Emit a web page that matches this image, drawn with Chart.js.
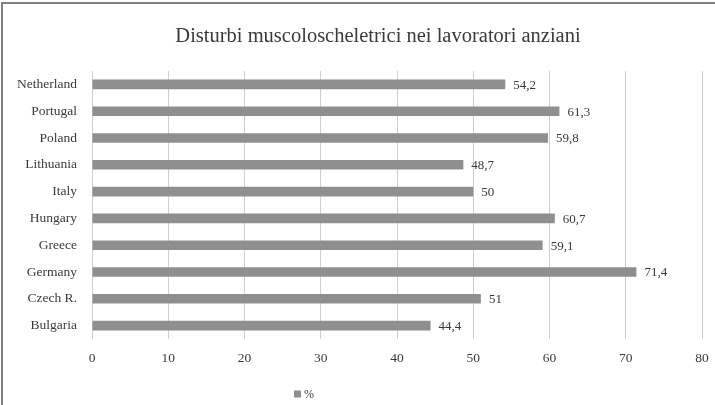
<!DOCTYPE html>
<html>
<head>
<meta charset="utf-8">
<style>
  html, body { margin: 0; padding: 0; background: #ffffff; }
  #wrap { position: relative; width: 715px; height: 405px; }
</style>
<script src="https://cdn.jsdelivr.net/npm/chart.js@4/dist/chart.umd.min.js"></script>
</head>
<body>
<div id="wrap"><canvas id="chart" width="715" height="405"></canvas></div>
<script>
// Chart content
const chartTitle = 'Disturbi muscoloscheletrici nei lavoratori anziani';
const countries = ['Netherland', 'Portugal', 'Poland', 'Lithuania', 'Italy',
                   'Hungary', 'Greece', 'Germany', 'Czech R.', 'Bulgaria'];
const percentValues = [54.2, 61.3, 59.8, 48.7, 50, 60.7, 59.1, 71.4, 51, 44.4];
const seriesName = '%';
const axisMin = 0;
const axisMax = 80;
const axisStep = 10;

const FONT = '"Liberation Serif", "DejaVu Serif", serif';
const TEXT = '#3a3a3a';
const BAR = '#8f8f91';
const GRID = '#cfcfcf';

// Comma as decimal separator
const fmt = v => String(v).replace('.', ',');

// Frame, title, value labels and legend
const decorPlugin = {
  id: 'decor',
  beforeDraw(chart) {
    const ctx = chart.ctx;
    ctx.save();
    ctx.strokeStyle = '#808080';
    ctx.lineWidth = 2;
    ctx.beginPath();
    ctx.moveTo(2, 405);
    ctx.lineTo(2, 3);
    ctx.lineTo(715, 3);
    ctx.stroke();
    ctx.restore();
  },
  afterDatasetsDraw(chart) {
    const ctx = chart.ctx;
    ctx.save();
    // title
    ctx.fillStyle = TEXT;
    ctx.font = '20.5px ' + FONT;
    ctx.textAlign = 'center';
    ctx.textBaseline = 'alphabetic';
    ctx.fillText(chartTitle, 378, 42);

    // value labels at bar ends
    const meta = chart.getDatasetMeta(0);
    ctx.font = '13px ' + FONT;
    ctx.textAlign = 'left';
    ctx.textBaseline = 'middle';
    meta.data.forEach((bar, i) => {
      ctx.fillText(fmt(chart.data.datasets[0].data[i]), bar.x + 8, bar.y + 1);
    });

    // legend
    const lx = 294, ly = 394;
    ctx.fillStyle = BAR;
    ctx.fillRect(lx, ly - 3.5, 7, 7);
    ctx.fillStyle = TEXT;
    ctx.font = '12px ' + FONT;
    ctx.fillText(chart.data.datasets[0].label, lx + 10, ly + 1);
    ctx.restore();
  }
};

new Chart(document.getElementById('chart'), {
  type: 'bar',
  data: {
    labels: countries,
    datasets: [{
      label: seriesName,
      data: percentValues,
      backgroundColor: BAR,
      borderWidth: 0,
      categoryPercentage: 1,
      barPercentage: 0.36
    }]
  },
  options: {
    indexAxis: 'y',
    responsive: false,
    animation: false,
    devicePixelRatio: 1,
    layout: { padding: { left: 0, right: 13, top: 71, bottom: 36 } },
    plugins: {
      legend: { display: false },
      title: { display: false },
      tooltip: { enabled: false }
    },
    scales: {
      x: {
        min: axisMin,
        max: axisMax,
        afterFit(scale) {
          scale.height = 30;
          scale.paddingLeft = 0;
          scale.paddingRight = 0;
        },
        grid: { color: GRID, lineWidth: 1, drawTicks: false },
        border: { display: false },
        ticks: {
          stepSize: axisStep,
          padding: 11,
          color: TEXT,
          font: { family: FONT, size: 13.5 }
        }
      },
      y: {
        afterFit(scale) { scale.width = 92; },
        grid: { display: false, drawTicks: false },
        border: { display: false },
        ticks: {
          padding: 15,
          color: TEXT,
          font: { family: FONT, size: 13.5 }
        }
      }
    }
  },
  plugins: [decorPlugin]
});
</script>
</body>
</html>
